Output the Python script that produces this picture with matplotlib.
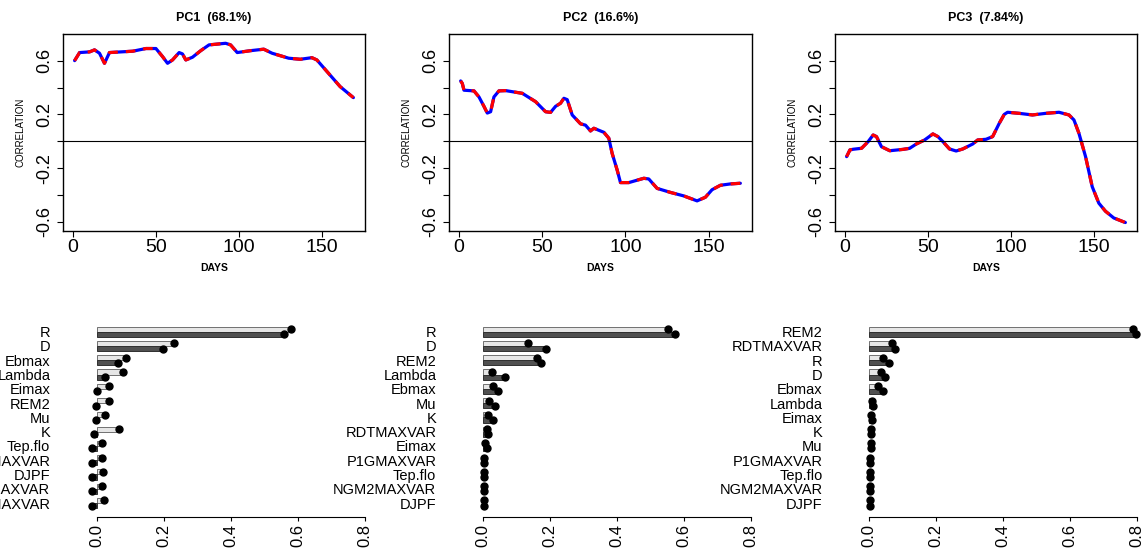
import matplotlib

matplotlib.use("Agg")

import matplotlib.pyplot as plt
import numpy as np

plt.rcParams["font.family"] = ["Liberation Sans", "DejaVu Sans"]

# ---- top row: correlation along the season ----
pc1_days = [1, 4, 10, 13, 16, 19, 22, 36, 44, 50, 54, 57, 60, 64, 66, 68, 72,
            77, 82, 92, 95, 99, 107, 115, 120, 130, 137, 144, 147, 154, 161, 169]
pc1_corr = [0.60, 0.66, 0.665, 0.68, 0.655, 0.58, 0.66, 0.67, 0.69, 0.69, 0.63,
            0.58, 0.605, 0.66, 0.65, 0.605, 0.625, 0.674, 0.717, 0.729, 0.717,
            0.66, 0.674, 0.685, 0.655, 0.618, 0.61, 0.622, 0.605, 0.506, 0.407,
            0.325]

pc2_days = [1, 2, 3, 9, 12, 15, 17, 19, 21, 24, 28, 38, 46, 52, 55, 58, 61, 63,
            65, 68, 73, 76, 79, 81, 87, 90, 92, 95, 97, 102, 111, 114, 119, 127,
            135, 143, 148, 152, 157, 163, 169]
pc2_corr = [0.449, 0.43, 0.38, 0.375, 0.33, 0.26, 0.21, 0.22, 0.33, 0.375, 0.377,
            0.357, 0.295, 0.22, 0.215, 0.26, 0.283, 0.32, 0.31, 0.196, 0.13, 0.12,
            0.077, 0.097, 0.067, 0.023, -0.09, -0.213, -0.307, -0.307, -0.275,
            -0.28, -0.35, -0.38, -0.406, -0.443, -0.416, -0.36, -0.327, -0.317,
            -0.312]

pc3_days = [1, 3, 5, 10, 14, 17, 19, 22, 27, 35, 39, 43, 48, 53, 56, 59, 63, 67,
            71, 77, 80, 85, 89, 93, 96, 98, 105, 113, 121, 129, 135, 138, 141,
            145, 149, 153, 157, 162, 169]
pc3_corr = [-0.114, -0.064, -0.059, -0.052, -0.002, 0.047, 0.035, -0.04, -0.07,
            -0.06, -0.052, -0.02, 0.01, 0.055, 0.035, -0.002, -0.057, -0.072,
            -0.057, -0.02, 0.01, 0.015, 0.035, 0.134, 0.2, 0.216, 0.208, 0.196,
            0.208, 0.216, 0.196, 0.159, 0.06, -0.114, -0.337, -0.46, -0.52, -0.57,
            -0.604]

titles = ["PC1  (68.1%)", "PC2  (16.6%)", "PC3  (7.84%)"]

# ---- bottom row: variable importance (two bars per variable) ----
pc1_vars = ["R", "D", "Ebmax", "Lambda", "Eimax", "REM2", "Mu", "K", "Tep.flo",
            "P1GMAXVAR", "DJPF", "NGM2MAXVAR", "RDTMAXVAR"]
pc1_light = [0.58, 0.23, 0.087, 0.079, 0.036, 0.037, 0.024, 0.066, 0.016, 0.016,
             0.017, 0.016, 0.02]
pc1_dark = [0.557, 0.196, 0.064, 0.025, -0.001, -0.002, -0.004, -0.008, -0.015,
            -0.016, -0.015, -0.016, -0.016]

pc2_vars = ["R", "D", "REM2", "Lambda", "Ebmax", "Mu", "K", "RDTMAXVAR", "Eimax",
            "P1GMAXVAR", "Tep.flo", "NGM2MAXVAR", "DJPF"]
pc2_light = [0.552, 0.133, 0.16, 0.027, 0.029, 0.018, 0.016, 0.013, 0.007,
             0.002, 0.002, 0.002, 0.002]
pc2_dark = [0.572, 0.187, 0.172, 0.066, 0.046, 0.036, 0.029, 0.016, 0.011,
            0.002, 0.002, 0.002, 0.002]

pc3_vars = ["REM2", "RDTMAXVAR", "R", "D", "Ebmax", "Lambda", "Eimax", "K", "Mu",
            "P1GMAXVAR", "Tep.flo", "NGM2MAXVAR", "DJPF"]
pc3_light = [0.788, 0.067, 0.042, 0.034, 0.027, 0.009, 0.005, 0.004, 0.004,
             0.002, 0.002, 0.002, 0.002]
pc3_dark = [0.795, 0.077, 0.059, 0.047, 0.04, 0.012, 0.007, 0.004, 0.005,
            0.002, 0.002, 0.002, 0.002]

W, H = 1146, 552


def px_axes(fig, left, right, top, bottom):
    return fig.add_axes([left / W, 1 - bottom / H, (right - left) / W, (bottom - top) / H])


def draw_corr(ax, days, corr, title):
    ax.plot(days, corr, color="blue", lw=2.3, solid_capstyle="round")
    ax.plot(days, corr, color="red", lw=2.3, linestyle=(0, (3, 2.5)))
    ax.axhline(0, color="black", lw=0.8)
    ax.set_xlim(-6, 176)
    ax.set_ylim(-0.667, 0.798)
    ax.set_xticks([0, 50, 100, 150])
    ax.set_yticks([-0.6, -0.4, -0.2, 0.0, 0.2, 0.4, 0.6])
    ax.set_yticklabels(["-0.6", "", "-0.2", "", "0.2", "", "0.6"])
    ax.tick_params(axis="x", labelsize=14, length=4, width=0.8, pad=2)
    ax.tick_params(axis="y", labelsize=13, length=4, width=0.8, pad=3)
    for lab in ax.get_yticklabels():
        lab.set_rotation(90)
        lab.set_va("center")
    for sp in ax.spines.values():
        sp.set_linewidth(1.0)
    ax.set_title(title, fontsize=9, fontweight="bold", pad=9)
    ax.set_xlabel("DAYS", fontsize=7.5, fontweight="bold", labelpad=5)
    ax.set_ylabel("CORRELATION", fontsize=7, labelpad=8)


def draw_importance(ax, names, light, dark):
    y = np.arange(len(names))
    h = 0.36
    ax.barh(y - h / 2, light, height=h, color="#e6e6e6", edgecolor="#707070", lw=0.7)
    ax.barh(y + h / 2, dark, height=h, color="#505050", edgecolor="#303030", lw=0.7)
    ax.plot(light, y - h / 2, "o", color="black", ms=5)
    ax.plot(dark, y + h / 2, "o", color="black", ms=5)
    ax.set_xlim(-0.04, 0.82)
    ax.set_ylim(12.95, -0.7)
    ax.set_yticks(y)
    ax.set_yticklabels(names, fontsize=10.5)
    ax.tick_params(axis="y", length=0, pad=24)
    ax.set_xticks([0.0, 0.2, 0.4, 0.6, 0.8])
    ax.set_xticklabels(["0.0", "0.2", "0.4", "0.6", "0.8"], rotation=90, fontsize=12)
    ax.tick_params(axis="x", length=3, width=0.8, pad=2)
    for side in ["top", "right", "left"]:
        ax.spines[side].set_visible(False)
    ax.spines["bottom"].set_bounds(0, 0.8)
    ax.spines["bottom"].set_linewidth(0.8)


fig = plt.figure(figsize=(W / 100, H / 100), dpi=100)

top_boxes = [(63, 365), (449, 752), (835, 1137)]
series = [(pc1_days, pc1_corr), (pc2_days, pc2_corr), (pc3_days, pc3_corr)]
for (left, right), (d, c), t in zip(top_boxes, series, titles):
    ax = px_axes(fig, left, right, 34, 231)
    draw_corr(ax, d, c, t)

bottom_zero = [97, 483, 869.3]
bars = [(pc1_vars, pc1_light, pc1_dark), (pc2_vars, pc2_light, pc2_dark),
        (pc3_vars, pc3_light, pc3_dark)]
scale = 335
for x0, (names, light, dark) in zip(bottom_zero, bars):
    ax = px_axes(fig, x0 - 0.04 * scale, x0 + 0.82 * scale, 321.7, 516.6)
    draw_importance(ax, names, light, dark)

fig.savefig("out.png", dpi=100)
